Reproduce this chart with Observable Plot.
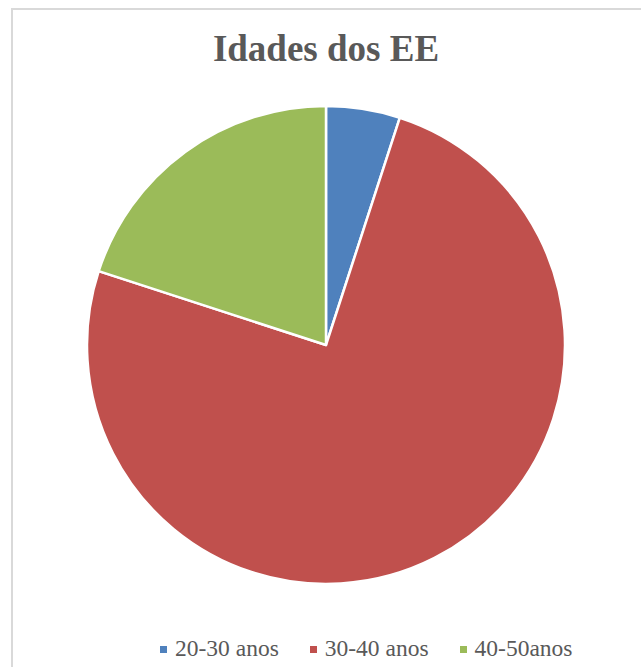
<!DOCTYPE html>
<html>
<head>
<meta charset="utf-8">
<script src="https://cdn.jsdelivr.net/npm/d3@7"></script>
<script src="https://cdn.jsdelivr.net/npm/@observablehq/plot@0.6"></script>
<style>
  html, body { margin: 0; padding: 0; background: #fff; }
  #wrap { position: relative; width: 641px; height: 667px; overflow: hidden; font-family: "Liberation Serif", "Times New Roman", serif; color: #595959; }
  #frame { position: absolute; left: 11px; top: 8px; width: 640px; height: 700px; border: 2px solid #d9d9d9; box-sizing: border-box; }
  #title { position: absolute; left: 0; width: 652px; top: 27px; text-align: center; font-weight: bold; font-size: 37px; line-height: 44px; }
  #chart { position: absolute; left: 0; top: 95px; }
  #legend { position: absolute; left: 160px; top: 633px; display: flex; align-items: center; font-size: 23.5px; line-height: 30px; white-space: nowrap; }
  #legend .item { display: flex; align-items: center; margin-right: 31px; }
  #legend .sw { width: 7px; height: 7px; margin-right: 8px; margin-top: 2px; }
</style>
</head>
<body>
<div id="wrap">
  <div id="frame"></div>
  <div id="title">Idades dos EE</div>
  <div id="chart"></div>
  <div id="legend"></div>
</div>
<script>
const categories = ["20-30 anos", "30-40 anos", "40-50anos"];
const values = [5, 75, 20];
const colors = ["#4F81BD", "#C0504D", "#9BBB59"];

const data = categories.map((c, i) => ({category: c, value: values[i]}));
const colorScale = Plot.scale({color: {type: "ordinal", domain: categories, range: colors}});

const W = 641, H = 500, cx = 326, cy = 250, R = 239;
const arcs = d3.pie().sort(null).value(d => d.value).startAngle(0).endAngle(2 * Math.PI)(data);
const arcGen = d3.arc().innerRadius(0).outerRadius(R);

function pieMark() {
  const g = d3.create("svg:g").attr("transform", `translate(${cx},${cy})`);
  g.selectAll("path")
    .data(arcs)
    .join("path")
    .attr("d", arcGen)
    .attr("fill", d => colorScale.apply(d.data.category))
    .attr("stroke", "#fff")
    .attr("stroke-width", 2.5)
    .attr("stroke-linejoin", "round");
  return g.node();
}

const chart = Plot.plot({
  width: W,
  height: H,
  margin: 0,
  x: {axis: null, domain: [0, W]},
  y: {axis: null, domain: [H, 0]},
  marks: [pieMark]
});
document.getElementById("chart").appendChild(chart);

const legend = d3.select("#legend");
categories.forEach(c => {
  const it = legend.append("div").attr("class", "item");
  it.append("div").attr("class", "sw").style("background", colorScale.apply(c));
  it.append("span").text(c);
});
</script>
</body>
</html>
